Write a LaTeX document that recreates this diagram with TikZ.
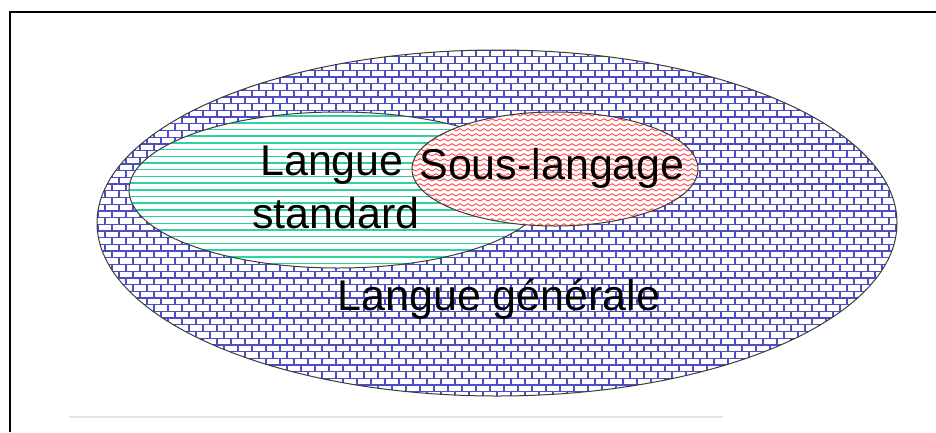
\documentclass[tikz,border=0pt]{standalone}
\usepackage{fontspec}
\setmainfont{Liberation Sans}
\usetikzlibrary{patterns}
\definecolor{brickblue}{RGB}{78,78,196}
\definecolor{stripegreen}{RGB}{46,210,156}
\definecolor{zigred}{RGB}{255,80,80}
\definecolor{edgegray}{RGB}{60,60,60}
\definecolor{rulegray}{RGB}{228,228,228}
\pgfdeclarepatternformonly{mybricks}{\pgfqpoint{-1pt}{-1pt}}{\pgfqpoint{15pt}{15pt}}{\pgfqpoint{14pt}{13.4pt}}{%
  \pgfsetlinewidth{1.25pt}%
  \pgfpathmoveto{\pgfqpoint{0pt}{0pt}}\pgfpathlineto{\pgfqpoint{14pt}{0pt}}%
  \pgfpathmoveto{\pgfqpoint{0pt}{6.7pt}}\pgfpathlineto{\pgfqpoint{14pt}{6.7pt}}%
  \pgfpathmoveto{\pgfqpoint{0pt}{0pt}}\pgfpathlineto{\pgfqpoint{0pt}{6.7pt}}%
  \pgfpathmoveto{\pgfqpoint{7pt}{6.7pt}}\pgfpathlineto{\pgfqpoint{7pt}{13.4pt}}%
  \pgfusepath{stroke}}
\pgfdeclarepatternformonly{mystripes}{\pgfqpoint{-1pt}{-1pt}}{\pgfqpoint{7pt}{7pt}}{\pgfqpoint{6.7pt}{6.7pt}}{%
  \pgfsetlinewidth{1.5pt}%
  \pgfpathmoveto{\pgfqpoint{-1pt}{1pt}}\pgfpathlineto{\pgfqpoint{7pt}{1pt}}%
  \pgfusepath{stroke}}
\pgfdeclarepatternformonly{myzigzag}{\pgfqpoint{-1pt}{-1pt}}{\pgfqpoint{9pt}{6pt}}{\pgfqpoint{8pt}{5pt}}{%
  \pgfsetlinewidth{0.9pt}%
  \pgfpathmoveto{\pgfqpoint{0pt}{1pt}}\pgfpathlineto{\pgfqpoint{4pt}{3.3pt}}\pgfpathlineto{\pgfqpoint{8pt}{1pt}}%
  \pgfusepath{stroke}}
\tikzset{
  outline/.style={draw=edgegray, line width=1pt},
  lbl/.style={font=\fontsize{43}{53}\selectfont, inner sep=0pt, anchor=base, text=black},
  frameline/.style={line width=2.5pt, black},
}
\begin{document}
\begin{tikzpicture}[x=1pt,y=-1pt]
\useasboundingbox (0,0) rectangle (936,432);
\fill[white] (0,0) rectangle (936,432);
% frame
\coordinate (fbl) at (10,432);
\coordinate (ftl) at (10,12);
\coordinate (ftr) at (936,12);
\draw[frameline] (fbl) -- (ftl) -- (ftr);
% gray rule
\coordinate (r1) at (69,417);
\coordinate (r2) at (723,417);
\draw[rulegray, line width=1.5pt] (r1) -- (r2);
% outer ellipse
\fill[white] (497,223) ellipse [x radius=400, y radius=173];
\fill[pattern=mybricks, pattern color=brickblue] (497,223) ellipse [x radius=400, y radius=173];
\draw[outline] (497,223) ellipse [x radius=400, y radius=173];
% green ellipse
\fill[white] (338,190) ellipse [x radius=209, y radius=78];
\fill[pattern=mystripes, pattern color=stripegreen] (338,190) ellipse [x radius=209, y radius=78];
\draw[outline] (338,190) ellipse [x radius=209, y radius=78];
% red ellipse
\fill[white] (555,169) ellipse [x radius=143, y radius=57];
\fill[pattern=myzigzag, pattern color=zigred] (555,169) ellipse [x radius=143, y radius=57];
\draw[outline] (555,169) ellipse [x radius=143, y radius=57];
% labels
\node[lbl] (ls1) at (332,175) {Langue};
\node[lbl] (ls2) at (336,228) {standard};
\node[lbl] (sl) at (552,179) {Sous-langage};
\node[lbl] (lg) at (499,310) {Langue générale};
\end{tikzpicture}
\end{document}
